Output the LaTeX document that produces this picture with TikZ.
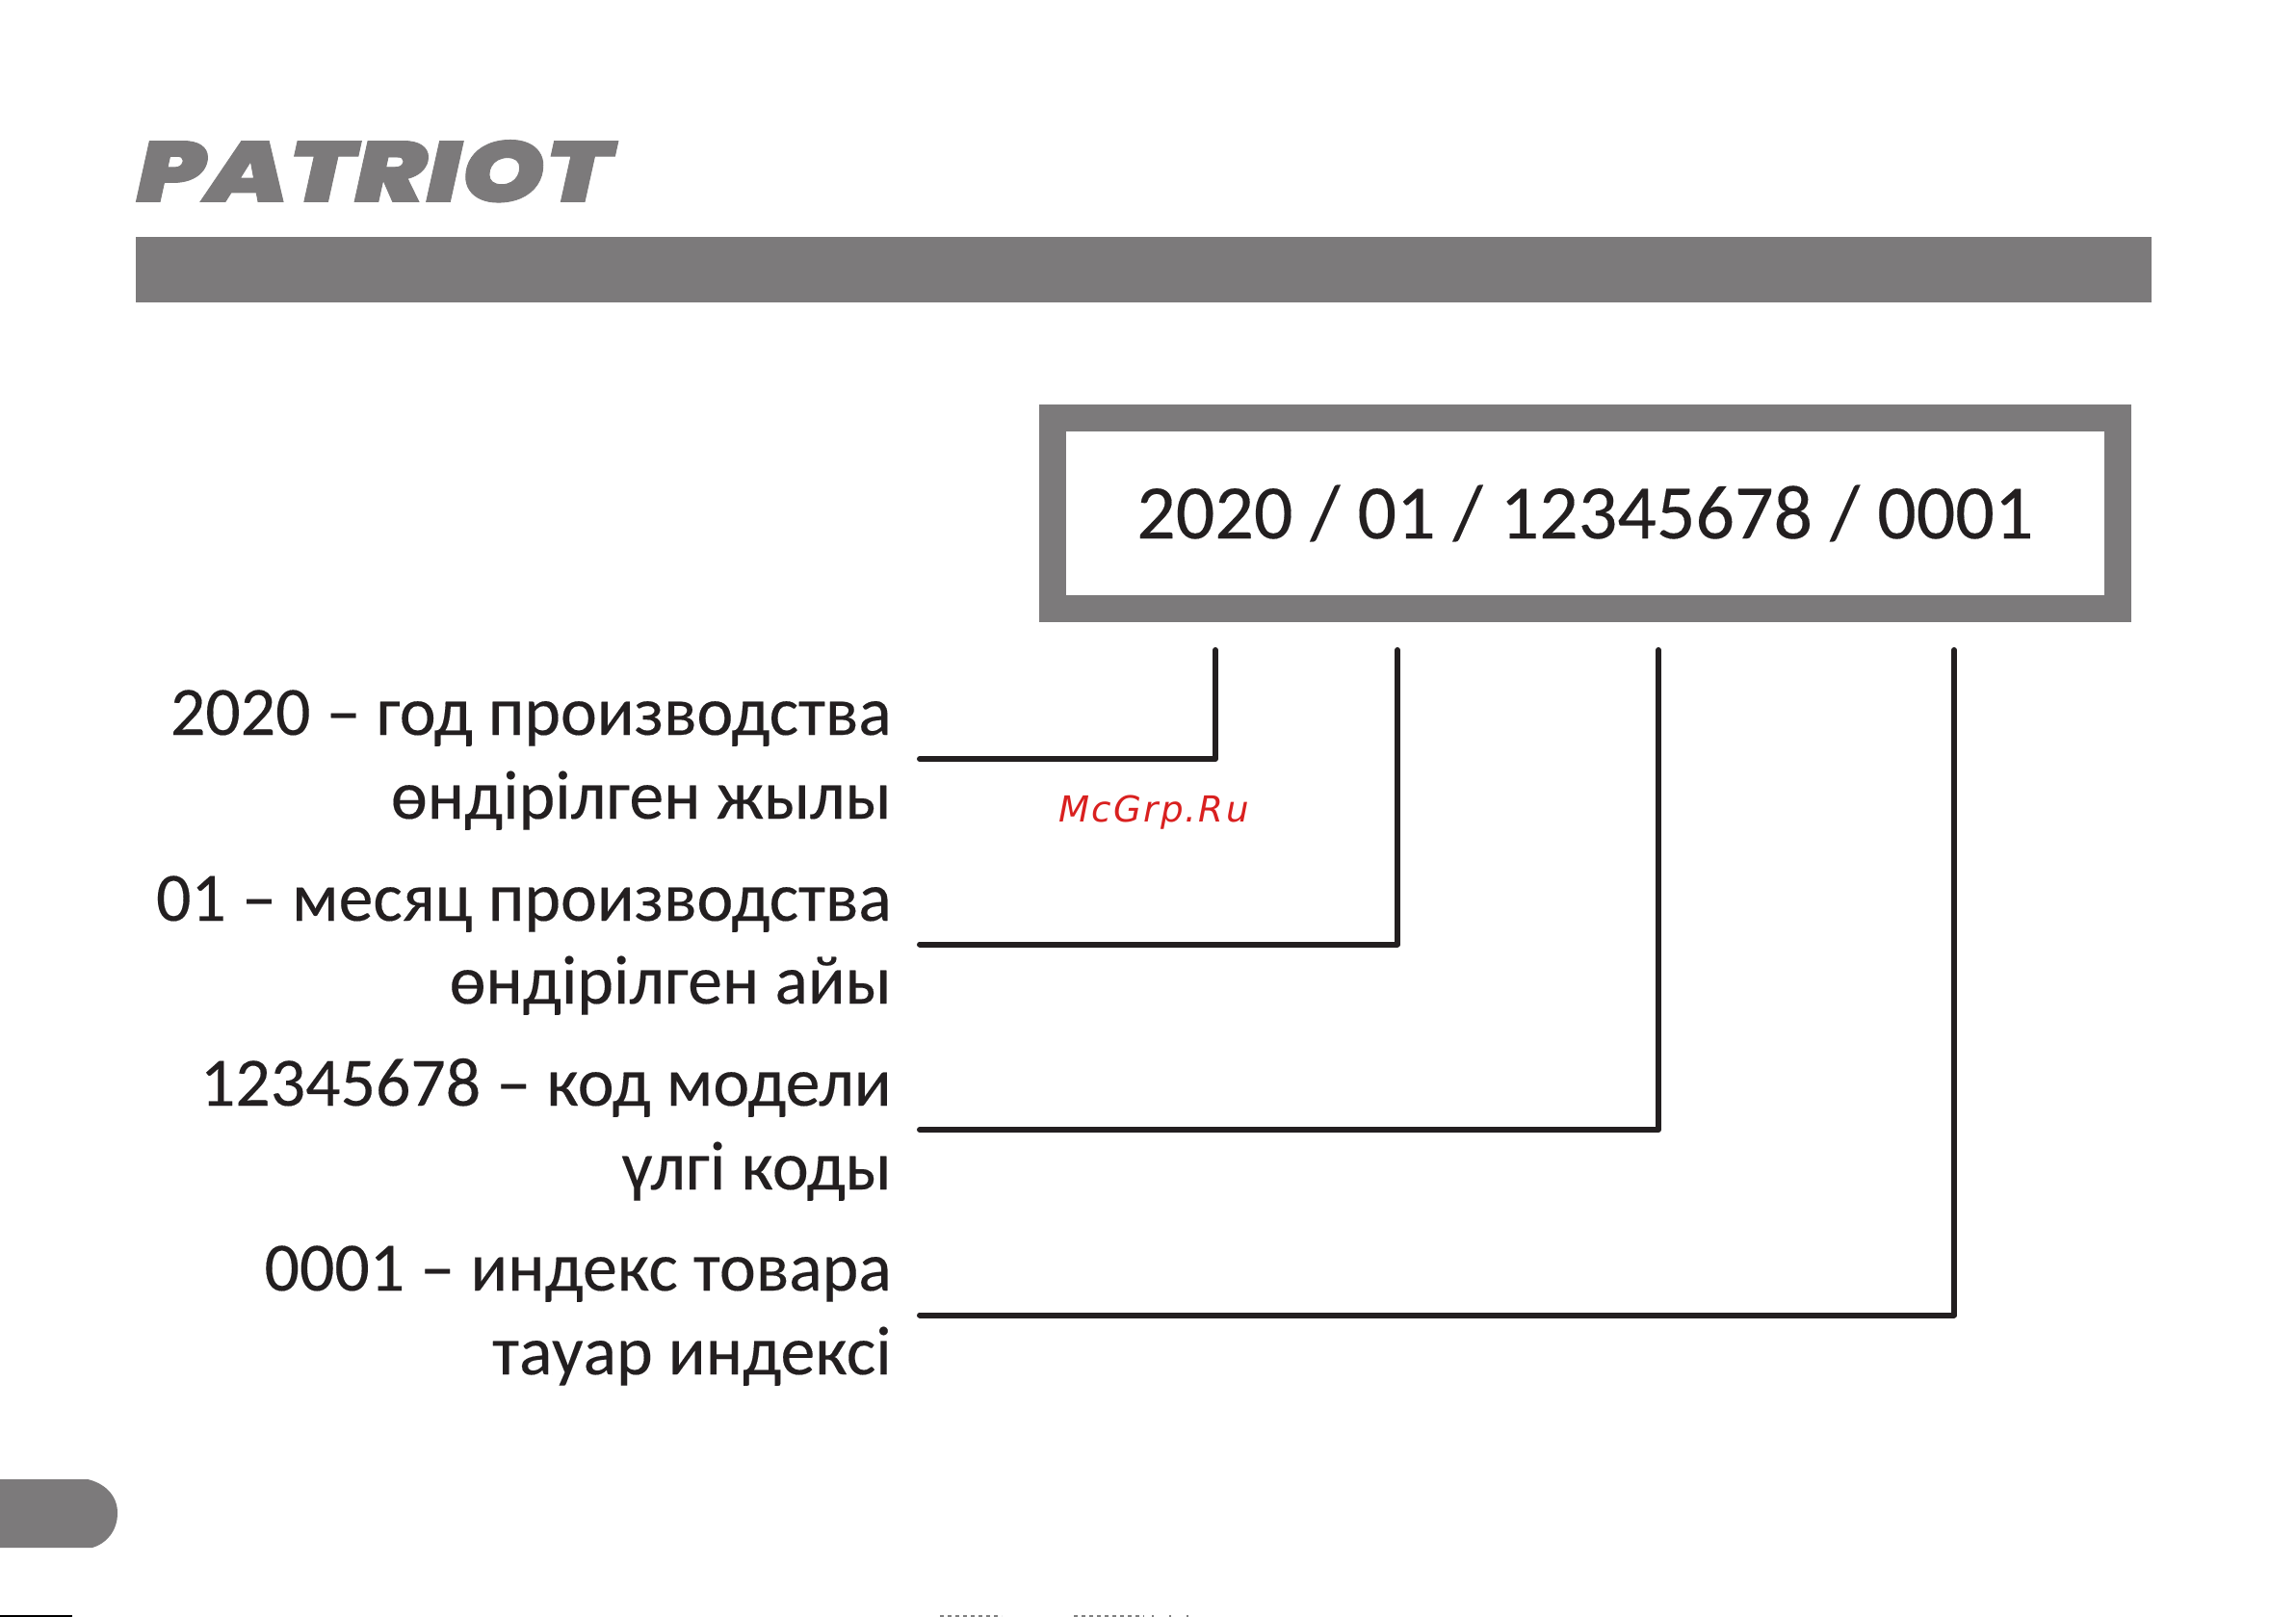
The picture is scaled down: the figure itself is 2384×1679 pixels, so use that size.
\documentclass[tikz,border=0pt]{standalone}
\usepackage{fontspec}
\setmainfont[FakeBold=0.2]{Carlito}
\newfontfamily\markfont[LetterSpace=6]{DejaVu Sans}
\newfontfamily\logofont[BoldItalicFont=*-BlackItalic,FakeStretch=1.25,FakeBold=1]{Poppins}
\definecolor{bandgray}{HTML}{7C7A7B}
\definecolor{inkblack}{HTML}{231F20}
\definecolor{markred}{HTML}{D9201F}
\tikzset{
  x=0.5pt,y=-0.5pt,
  label text/.style={anchor=base east,inner sep=0pt,text=inkblack,font=\fontsize{35.9pt}{40pt}\selectfont},
  leader/.style={draw=inkblack,line width=3pt,line cap=round,line join=round},
}
\begin{document}
\begin{tikzpicture}
\useasboundingbox (0,0) rectangle (2384,1679);
\fill[white] (0,0) rectangle (2384,1679);
% logo
\node[anchor=base west,inner sep=0pt,text=bandgray,font=\logofont\fontsize{44.5pt}{50pt}\selectfont\bfseries\itshape] (logo) at (141,209.5) {PATRIOT};
% band
\fill[bandgray] (141,246) rectangle (2234,314);
% code box
\node[draw=bandgray,line width=14pt,fill=white,inner sep=0pt,outer sep=0pt,text=inkblack,font=\fontsize{40pt}{44pt}\selectfont,
  minimum width=552.75pt,minimum height=99pt,anchor=north west] (code) at (1093,434) {2020 / 01 / 12345678 / 0001};
% labels
\node[label text] (l1a) at (926,763) {2020 – год производства};
\node[label text] (l1b) at (926,850) {өндірілген жылы};
\node[label text] (l2a) at (926,956) {01 – месяц производства};
\node[label text] (l2b) at (926,1042) {өндірілген айы};
\node[label text] (l3a) at (926,1148) {12345678 – код модели};
\node[label text] (l3b) at (926,1235) {үлгі коды};
\node[label text] (l4a) at (926,1340) {0001 – индекс товара};
\node[label text] (l4b) at (926,1427) {тауар индексі};
% leaders
\coordinate (a1) at (955,788);   \coordinate (b1) at (1262,675);
\coordinate (a2) at (955,980.5); \coordinate (b2) at (1451,675);
\coordinate (a3) at (955,1173);  \coordinate (b3) at (1722,675);
\coordinate (a4) at (955,1365.5);\coordinate (b4) at (2029,675);
\draw[leader] (a1) -| (b1);
\draw[leader] (a2) -| (b2);
\draw[leader] (a3) -| (b3);
\draw[leader] (a4) -| (b4);
% watermark
\node[anchor=base west,inner sep=0pt,text=markred,font=\markfont\fontsize{18.6pt}{20pt}\selectfont\itshape] (mark) at (1099,853) {McGrp.Ru};
% page tab
\fill[bandgray] (0,1536) -- (91,1536) .. controls (108,1540) and (122,1552) .. (122,1571) .. controls (122,1590) and (110,1603) .. (96,1607) -- (0,1607) -- cycle;
% scan residue along the bottom edge
\fill[black] (0,1677) rectangle (75,1679);
\draw[gray,line width=0.6pt,dash pattern=on 2pt off 2pt] (976,1678) -- (1040,1678);
\draw[gray,line width=0.6pt,dash pattern=on 2pt off 2pt] (1115,1678) -- (1188,1678);
\draw[gray,line width=0.6pt,dash pattern=on 1pt off 8pt] (1196,1678) -- (1245,1678);
\end{tikzpicture}
\end{document}
